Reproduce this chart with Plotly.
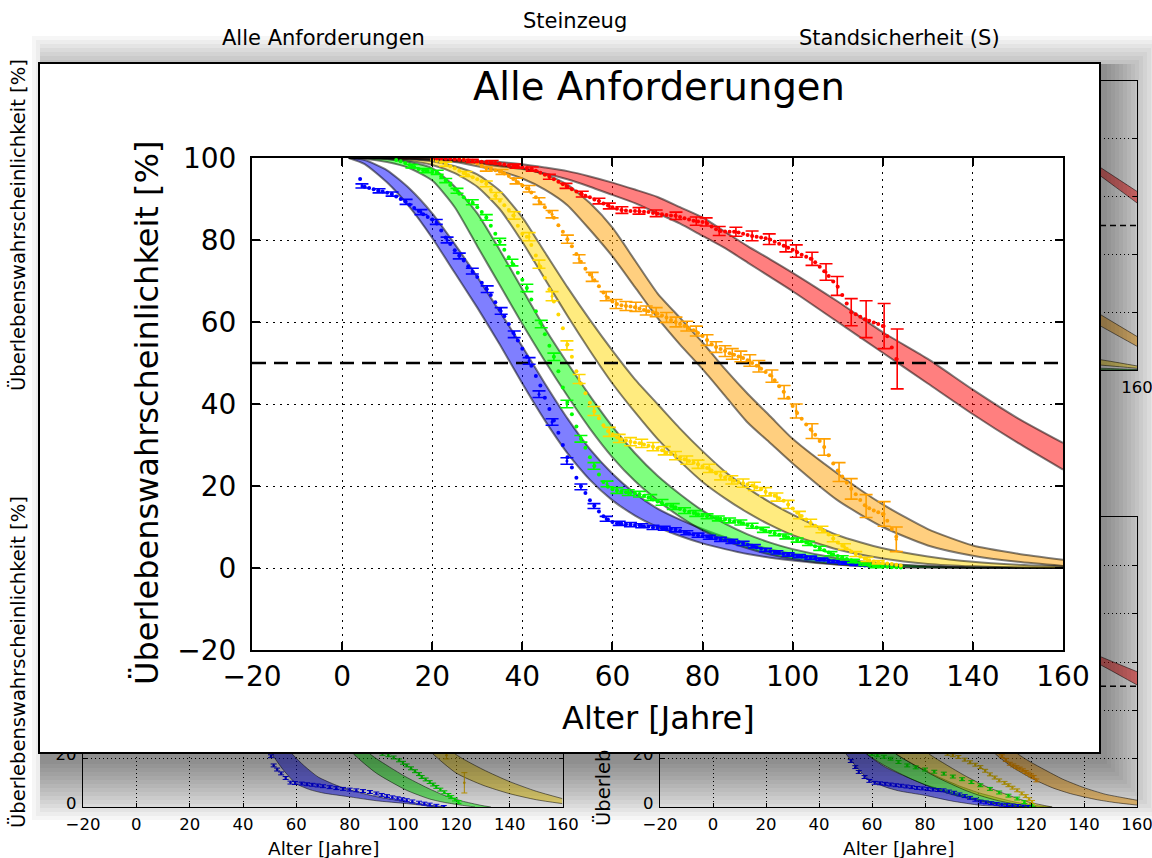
import plotly.graph_objects as go

W, H = 1152, 858
FONT = "DejaVu Sans"

# ======================= DATA =======================
X_TICKS = [-20, 0, 20, 40, 60, 80, 100, 120, 140, 160]
X_TICK_TEXT = ["−20", "0", "20", "40", "60", "80", "100", "120", "140", "160"]
# top-right background plot: only its last x label is not covered by the pop-up panel
TR_X_TICK_TEXT = ["", "", "", "", "", "", "", "", "", "160"]
Y_TICKS_MAIN = [-20, 0, 20, 40, 60, 80, 100]
Y_TICK_TEXT_MAIN = ["−20", "0", "20", "40", "60", "80", "100"]
Y_TICKS_BG = [0, 20, 40, 60, 80, 100, 120]
# bottom background plots: only the two lowest y labels are not covered by the panel
Y_TICK_TEXT_BG = ["0", "20", "", "", "", "", ""]
THRESHOLD_X = [-20, 160]
THRESHOLD = [50, 50]

# ---- foreground: "Alle Anforderungen" bands (lower / upper curve) ----
BAND_X = [1.5, 5, 10, 15, 20, 25, 30, 35, 40, 45, 50, 55, 60, 65, 70, 75, 80, 85, 90, 95, 100, 110, 120, 130, 140, 150, 160]
BLUE_LO = [100, 98.5, 94, 88, 80.5, 72, 63.5, 54.5, 45, 36, 28, 21.5, 16.5, 12.8, 10, 7.8, 6, 4.6, 3.4, 2.5, 1.8, 0.8, 0.3, 0.1, 0, 0, 0]
BLUE_HI = [100, 99.5, 97, 92.5, 86.5, 79, 71, 62.5, 54, 45, 36.5, 29, 23, 18.2, 14.5, 11.8, 9.5, 7.5, 5.9, 4.6, 3.5, 1.9, 0.9, 0.4, 0.15, 0.05, 0]
GREEN_LO = [100, 99.8, 99, 97.5, 94.5, 88, 78.5, 69, 59.5, 50.5, 42, 34, 27, 21.2, 16.5, 12.5, 9.2, 6.7, 4.8, 3.3, 2.2, 0.9, 0.3, 0.1, 0, 0, 0]
GREEN_HI = [100, 100, 99.7, 99, 97.5, 93, 86.5, 77.5, 68, 58.5, 50, 42, 34.5, 28, 22.5, 18, 14, 10.8, 8.2, 6.2, 4.6, 2.4, 1.1, 0.45, 0.15, 0.05, 0]
YELLOW_LO = [100, 100, 99.8, 99.3, 98.3, 96.3, 93, 87.5, 79.5, 70.5, 61.5, 53, 45, 38, 31.5, 26, 21, 17, 13.5, 10.5, 8, 4.5, 2.3, 1, 0.4, 0.1, 0]
YELLOW_HI = [100, 100, 99.9, 99.7, 99.2, 98, 96, 92, 85.5, 77, 68.5, 60.5, 53, 46, 40, 34, 28.5, 23.5, 19.5, 16, 13, 8, 4.8, 2.8, 1.5, 0.8, 0.4]
ORANGE_LO = [100, 100, 100, 99.8, 99.5, 99, 98, 96.8, 95, 92.3, 88.5, 82.5, 76, 68.5, 61, 54.5, 48.5, 42, 35.5, 30.5, 25.5, 16.5, 10, 5.5, 3, 1.5, 0.5]
ORANGE_HI = [100, 100, 100, 100, 99.8, 99.5, 99, 98.3, 97.5, 96, 93.5, 89, 83, 75, 67, 61, 55, 48.5, 42.5, 37, 31.5, 23, 15.5, 9.5, 5.5, 3.5, 2]
RED_LO = [100, 100, 100, 99.8, 99.6, 99.2, 98.7, 98, 97.3, 96.2, 94.8, 93, 91, 89, 86.5, 84, 81, 78, 74.5, 71, 67.5, 60, 52.5, 45, 37.5, 30.5, 24]
RED_HI = [100, 100, 100, 100, 99.8, 99.6, 99.3, 99, 98.5, 97.7, 96.8, 95.5, 94, 92.3, 90.5, 88, 85.5, 82, 78.5, 75.3, 72, 65, 57.5, 51, 43.5, 36.5, 30.5]

# ---- foreground observed survival (one dot per year, first year given) ----
BLUE_DOT_START = 4
BLUE_DOTS = [94.9, 93.0, 92.7, 92.4, 92.0, 91.8, 91.5, 91.2, 90.6, 90.0, 89.4, 88.6, 87.8, 87.1, 86.3, 85.6,
             85.0, 84.0, 82.3, 80.6, 79.0, 77.5, 76.2, 75.0, 73.6, 72.2, 71.0, 69.6, 68.2, 66.6, 64.8, 63.0,
             61.4, 59.5, 57.4, 55.5, 53.5, 51.5, 49.3, 46.8, 44.5, 41.5, 38.8, 36.0, 33.0, 30.0, 27.0, 24.5,
             22.0, 20.0, 18.3, 16.5, 15.2, 13.8, 12.6, 11.8, 11.2, 10.9, 10.8, 10.7, 10.6, 10.5, 10.4, 10.2,
             10.1, 9.9, 9.8, 9.7, 9.6, 9.5, 9.3, 9.0, 8.7, 8.4, 8.2, 8.0, 7.8, 7.6, 7.4, 7.2, 7.0, 6.8, 6.6,
             6.4, 6.3, 6.0, 5.7, 5.4, 5.0, 4.7, 4.4, 4.1, 3.9, 3.7, 3.5, 3.3, 3.1, 2.9, 2.8, 2.7, 2.5, 2.3,
             2.1, 2.0, 1.8, 1.6, 1.5, 1.3, 1.2, 1.0, 0.9, 0.7, 0.6, 0.5]
GREEN_DOT_START = 12
GREEN_DOTS = [99.5, 99.2, 98.8, 98.3, 97.8, 97.3, 97.0, 96.8, 96.6, 96.4, 95.5, 94.5, 93.4, 92.3, 91.3, 90.4,
              89.6, 89.0, 88.0, 86.8, 85.5, 83.5, 81.5, 79.6, 77.6, 75.8, 74.0, 72.0, 70.3, 68.3, 65.5, 62.6,
              59.8, 57.0, 54.2, 51.5, 48.0, 44.0, 40.5, 37.5, 34.5, 31.5, 29.3, 27.0, 24.9, 22.8, 21.0, 19.8,
              19.2, 18.9, 18.7, 18.5, 18.3, 18.2, 18.0, 17.6, 17.2, 16.7, 16.2, 15.8, 15.4, 15.1, 14.8, 14.4,
              14.0, 13.7, 13.4, 13.1, 12.8, 12.6, 12.4, 12.2, 12.0, 11.8, 11.6, 11.4, 11.2, 10.9, 10.5, 10.2,
              9.9, 9.5, 9.1, 8.8, 8.5, 8.1, 7.8, 7.5, 7.2, 6.8, 6.5, 6.2, 5.8, 5.3, 4.8, 4.3, 3.8, 3.3, 2.9,
              2.6, 2.2, 1.9, 1.5, 1.2, 0.9, 0.6, 0.5, 0.4, 0.3, 0.3, 0.2, 0.2, 0.1]
YELLOW_DOT_START = 20
YELLOW_DOTS = [99.6, 99.3, 99.0, 98.5, 98.0, 97.5, 96.9, 96.3, 95.8, 95.3, 94.8, 94.3, 93.7, 92.2, 90.8, 89.6,
               88.5, 87.3, 86.0, 83.5, 81.5, 80.8, 78.8, 76.2, 73.5, 70.8, 68.0, 65.0, 61.8, 58.5, 54.5, 51.5,
               48.0, 45.0, 42.6, 40.3, 38.2, 36.5, 34.8, 33.4, 32.6, 31.8, 31.4, 31.1, 30.8, 30.6, 30.4, 30.1,
               29.8, 29.6, 29.2, 28.7, 28.2, 27.8, 27.4, 27.0, 26.5, 26.1, 25.7, 25.3, 24.8, 24.4, 23.8, 23.1,
               22.5, 22.1, 21.7, 21.3, 21.0, 20.7, 20.4, 20.1, 19.7, 19.2, 18.6, 18.1, 17.6, 17.0, 16.4, 15.5,
               14.5, 13.5, 12.7, 11.8, 11.0, 10.3, 9.6, 9.0, 8.2, 7.2, 6.2, 5.4, 4.7, 4.0, 3.4, 2.8, 2.3, 1.9,
               1.6, 1.4, 1.2, 1.1, 1.0, 0.8, 0.6]
ORANGE_DOT_START = 26
ORANGE_DOTS = [99.8, 99.6, 99.4, 99.1, 98.7, 98.2, 97.6, 97.3, 97.0, 96.7, 96.2, 95.6, 94.9, 94.1, 93.3, 92.6,
               91.6, 90.4, 89.1, 88.0, 86.9, 85.4, 83.6, 82.0, 80.2, 78.5, 76.6, 74.7, 73.0, 71.6, 70.2, 68.7,
               67.2, 65.9, 65.0, 64.4, 64.1, 63.9, 63.8, 63.6, 63.3, 62.9, 62.6, 62.4, 62.0, 61.6, 61.1, 60.5,
               60.0, 59.5, 59.0, 58.5, 58.0, 57.3, 56.6, 55.6, 54.6, 53.9, 53.4, 52.9, 52.4, 52.0, 51.6, 51.2,
               50.7, 50.0, 49.3, 48.6, 47.8, 47.0, 45.8, 44.3, 43.0, 41.5, 39.5, 37.8, 36.4, 35.0, 33.8, 32.5,
               31.0, 29.5, 27.5, 25.5, 23.8, 22.3, 20.8, 19.3, 18.0, 16.6, 15.3, 14.6, 14.0, 13.6, 13.2, 11.5,
               9.5, 7.6]
RED_DOT_START = 20
RED_DOTS = [100.0, 99.9, 99.9, 99.8, 99.8, 99.7, 99.6, 99.5, 99.4, 99.3, 99.2, 99.1, 99.0, 99.0, 98.8, 98.6,
            98.4, 98.2, 98.0, 97.9, 97.7, 97.5, 97.3, 96.9, 96.4, 95.9, 95.4, 94.8, 94.2, 93.6, 93.0, 92.4,
            91.8, 91.3, 90.8, 90.4, 89.9, 89.5, 88.9, 88.4, 88.0, 87.6, 87.3, 87.2, 87.1, 87.1, 87.0, 86.9,
            86.8, 86.6, 86.4, 86.3, 86.1, 86.0, 85.9, 85.6, 85.3, 85.0, 84.7, 84.5, 84.4, 84.0, 83.3, 82.6,
            82.2, 82.1, 82.0, 82.0, 81.8, 81.5, 81.2, 81.0, 80.8, 80.6, 80.4, 80.1, 79.6, 79.1, 78.6, 78.1,
            77.6, 77.0, 76.4, 75.9, 75.4, 74.6, 73.5, 72.4, 71.2, 69.9, 68.6, 66.6, 64.5, 62.4, 61.9, 61.3,
            60.7, 60.3, 59.9, 59.5, 59.0, 56.5, 53.8, 51.0]

# ---- foreground error bars ----
BLUE_BAR_X = [4.4, 8.2, 11.1, 14.2, 17.5, 20.9, 23.3, 26.0, 28.9, 32.2, 35.3, 38.2, 41.5, 43.7, 46.6, 49.9,
              53.0, 55.9, 58.6, 61.5, 64.0, 66.5, 69.0, 71.5, 74.0, 76.5, 79.0, 81.5, 84.0, 86.5, 89.0, 91.5,
              94.0, 96.5, 99.0, 101.5, 104.0, 106.5, 109.0, 111.5, 114.0]
BLUE_BAR_Y = [93.2, 92.0, 91.2, 89.3, 86.8, 84.4, 80.0, 76.1, 72.4, 68.0, 62.7, 57.0, 50.5, 42.4, 35.6, 26.1,
              19.8, 15.1, 12.0, 10.9, 10.6, 10.3, 9.9, 9.7, 9.3, 8.6, 8.0, 7.5, 7.0, 6.5, 6.0, 5.3,
              4.4, 3.8, 3.3, 2.9, 2.5, 2.1, 1.6, 1.2, 0.9]
BLUE_BAR_ERR = [0.5, 0.5, 0.5, 0.6, 0.6, 0.6, 0.7, 0.7, 0.7, 0.8, 0.8, 0.8, 0.8, 0.8, 0.8, 0.8,
                0.7, 0.6, 0.6, 0.5, 0.5, 0.5, 0.5, 0.5, 0.5, 0.5, 0.5, 0.5, 0.5, 0.5, 0.5, 0.4,
                0.4, 0.4, 0.4, 0.4, 0.4, 0.3, 0.3, 0.3, 0.3]
GREEN_BAR_X = [15.5, 18.6, 21.1, 23.0, 25.5, 28.9, 32.0, 35.0, 37.7, 41.0, 44.2, 47.0, 49.9, 53.0, 55.9, 58.8,
               61.0, 63.5, 66.0, 68.5, 71.0, 73.5, 76.0, 78.5, 81.0, 83.5, 86.0, 88.5, 91.0, 93.5, 96.0, 98.5,
               101.0, 103.5, 106.0, 108.5, 111.0, 113.5, 116.0, 118.5]
GREEN_BAR_Y = [98.0, 96.9, 96.5, 94.5, 92.0, 89.2, 85.5, 79.6, 74.5, 68.3, 59.5, 51.5, 40.0, 31.5, 24.9, 20.5,
               18.9, 18.4, 18.0, 17.2, 16.0, 15.0, 14.0, 13.3, 12.6, 12.1, 11.6, 11.1, 10.3, 9.3, 8.5, 7.7,
               6.8, 6.0, 4.8, 3.5, 2.6, 1.7, 0.9, 0.4]
GREEN_BAR_ERR = [0.4, 0.5, 0.5, 0.5, 0.6, 0.6, 0.7, 0.8, 0.8, 0.9, 0.9, 0.9, 0.9, 0.8, 0.8, 0.7,
                 0.7, 0.7, 0.7, 0.7, 0.7, 0.7, 0.7, 0.7, 0.6, 0.6, 0.6, 0.6, 0.6, 0.6, 0.6, 0.6,
                 0.5, 0.5, 0.5, 0.5, 0.4, 0.4, 0.3, 0.3]
YELLOW_BAR_X = [23.0, 27.5, 32.0, 34.2, 38.2, 41.5, 43.7, 46.6, 49.9, 52.6, 55.9, 59.3, 61.5, 64.0, 66.5, 69.0,
                71.5, 74.0, 76.5, 79.0, 81.5, 84.0, 86.5, 89.0, 91.5, 94.0, 96.5, 99.0, 101.5, 104.0, 106.5,
                109.0, 111.5, 114.0, 116.5, 119.0]
YELLOW_BAR_Y = [98.5, 96.1, 93.7, 90.8, 86.0, 80.8, 74.1, 66.3, 54.3, 46.1, 38.3, 33.2, 31.6, 30.8, 30.4, 29.6,
                28.6, 27.4, 26.3, 25.3, 24.3, 22.5, 21.5, 20.7, 19.9, 18.6, 17.3, 15.5, 12.9, 11.0, 9.4,
                7.2, 5.2, 3.4, 2.1, 1.4]
YELLOW_BAR_ERR = [0.5, 0.6, 0.7, 0.8, 0.9, 1.0, 1.0, 1.1, 1.1, 1.1, 1.1, 1.1, 1.0, 1.0, 1.0, 1.0,
                  1.0, 1.0, 1.0, 1.0, 1.0, 1.0, 1.0, 1.0, 1.0, 1.0, 1.0, 1.0, 0.9, 0.9, 0.8,
                  0.8, 0.7, 0.6, 0.5, 0.4]
ORANGE_BAR_X = [32.0, 35.5, 38.6, 41.5, 43.7, 46.6, 50.0, 52.6, 55.5, 58.6, 60.8, 63.0, 65.2, 67.5, 69.7, 72.0,
                74.1, 76.5, 78.6, 81.0, 83.0, 85.0, 86.6, 88.5, 90.5, 92.5, 95.4, 98.1, 100.8, 104.3, 107.0,
                110.3, 113.0, 116.3, 120.3, 123.0]
ORANGE_BAR_Y = [97.3, 96.6, 94.4, 92.5, 89.5, 86.3, 80.2, 75.4, 71.0, 66.3, 64.4, 63.9, 63.7, 62.8, 62.4, 61.1,
                60.0, 59.0, 57.8, 55.6, 53.9, 52.9, 52.2, 51.6, 50.6, 49.2, 46.8, 42.9, 38.3, 33.4, 29.5,
                23.4, 19.3, 15.1, 13.2, 7.0]
ORANGE_BAR_ERR = [0.5, 0.6, 0.7, 0.8, 0.8, 0.9, 1.0, 1.0, 1.1, 1.1, 1.1, 1.1, 1.1, 1.1, 1.1, 1.2,
                  1.2, 1.2, 1.2, 1.3, 1.3, 1.3, 1.3, 1.3, 1.4, 1.4, 1.5, 1.6, 1.7, 1.8, 2.0,
                  2.3, 2.5, 2.8, 3.0, 3.0]
RED_BAR_X = [28.9, 33.3, 38.6, 42.2, 46.0, 49.7, 53.3, 57.0, 59.3, 62.1, 65.9, 69.7, 74.1, 78.6, 80.8, 83.7,
             87.4, 91.0, 94.8, 98.5, 100.8, 104.3, 107.4, 109.9, 113.0, 116.3, 120.3, 123.2]
RED_BAR_Y = [99.3, 99.0, 98.0, 97.3, 95.4, 93.2, 91.2, 89.5, 88.3, 87.3, 87.1, 86.5, 85.9, 84.6, 84.4, 82.2,
             82.0, 81.0, 80.2, 78.5, 77.3, 75.4, 72.2, 68.8, 62.4, 60.7, 59.0, 51.0]
RED_BAR_ERR = [0.4, 0.4, 0.5, 0.5, 0.6, 0.6, 0.7, 0.7, 0.7, 0.8, 0.8, 0.8, 0.9, 1.0, 1.0, 1.1,
               1.1, 1.2, 1.3, 1.4, 1.5, 1.6, 2.0, 2.3, 3.3, 4.5, 5.5, 7.3]

# ---- background: top-right subplot "Standsicherheit (S)" (visible tail only) ----
TR_X = [140, 150, 160]
TR_RED_LO = [71.4, 64.6, 57.8]
TR_RED_HI = [73.8, 67.8, 61.8]
TR_ORANGE_LO = [18.4, 13.3, 8.2]
TR_ORANGE_HI = [22.6, 17.1, 11.6]
TR_YELLOW_LO = [2.2, 1.4, 0.6]
TR_YELLOW_HI = [4.5, 3.0, 1.4]
TR_GREEN_LO = [0.2, 0.1, 0.0]
TR_GREEN_HI = [0.8, 0.5, 0.2]

# ---- background: bottom-left subplot (visible lower strip) ----
BL_BLUE_LO_X = [47, 50.8, 55, 59.9, 65, 70, 80.6, 90, 101.4, 112.5]
BL_BLUE_LO = [30, 22, 15.5, 9.7, 7.2, 5.8, 4.1, 2.6, 1.4, 0]
BL_BLUE_HI_X = [53, 58.4, 63, 68.2, 75, 80.6, 90, 101.4, 110, 116]
BL_BLUE_HI = [30, 22, 17, 12.4, 9, 6.9, 4.3, 2.1, 0.8, 0]
BL_GREEN_LO_X = [76, 81.4, 90, 101.4, 110, 116, 122.3, 127]
BL_GREEN_LO = [30, 22, 14, 6.9, 3.3, 1.8, 0.7, 0]
BL_GREEN_HI_X = [82, 87.6, 95, 101, 108.4, 115, 122, 129.2, 133]
BL_GREEN_HI = [30, 22, 16.5, 12.5, 8.3, 5, 2.5, 0.7, 0]
BL_YELLOW_LO_X = [105, 111.2, 120, 130, 140, 150, 159.7]
BL_YELLOW_LO = [30, 22, 14, 9, 5.5, 3, 1.4]
BL_YELLOW_HI_X = [113, 119.5, 130, 140, 150, 159.7]
BL_YELLOW_HI = [30, 22, 15.5, 10.5, 6.5, 3.5]
BL_BLUE_DOT_X = [50.5, 51.5, 52.8, 54.3, 56.0, 57.8, 59.5, 62, 64, 66, 68, 70, 72.5, 75, 77.5, 80, 82.5, 85, 87.6,
                 90, 92, 94, 96, 98, 99.7, 101.4, 103.5, 106, 108, 110, 112.5, 115.3]
BL_BLUE_DOT_Y = [21.0, 17.2, 15.5, 13.9, 12.0, 10.1, 9.9, 9.7, 9.4, 9.2, 8.9, 8.6, 8.2, 7.8, 7.5, 7.2, 6.9, 6.6, 6.2,
                 5.6, 5.0, 4.5, 4.0, 3.6, 3.2, 2.8, 2.3, 1.8, 1.4, 1.0, 0.5, 0.0]
BL_GREEN_DOT_X = [90, 92.3, 94.5, 96.5, 98.5, 100, 101.4, 103, 104.5, 106, 107, 108.5, 110, 111.3, 112.5, 114,
                  115.5, 117, 118.1, 119.5, 120.8]
BL_GREEN_DOT_Y = [22.8, 22.0, 21.4, 20.5, 19.3, 18.3, 17.2, 16.0, 14.8, 13.6, 12.4, 11.4, 10.3, 9.3, 8.3, 7.2,
                  6.1, 5.0, 4.1, 3.1, 2.1]
BL_YELLOW_BAR_X = [116.3, 123.0]
BL_YELLOW_BAR_Y = [21.4, 10.0]
BL_YELLOW_BAR_ERR = [1.5, 4.2]

# ---- background: bottom-right subplot (visible lower strip + right strip) ----
BR_RED_X = [140, 150, 160]
BR_RED_LO = [62.5, 56.6, 50.5]
BR_RED_HI = [65.1, 60.5, 56.0]
BR_BLUE_LO_X = [46, 50.2, 55, 59.3, 65, 70, 80.1, 90, 101, 110, 120]
BR_BLUE_LO = [30, 22, 15.5, 11, 8.3, 6.7, 4.8, 2.5, 0.7, 0.2, 0]
BR_BLUE_HI_X = [52, 57.9, 65, 73.2, 80, 87.1, 95, 107.9, 117.7, 125]
BR_BLUE_HI = [30, 22, 16.5, 12.4, 9.3, 6.9, 4.5, 1.4, 0.2, 0]
BR_GREEN_LO_X = [50, 57.9, 65, 75, 85, 90, 100, 105, 112, 118]
BR_GREEN_LO = [30, 22, 17, 11.5, 7, 5.2, 2.7, 1.6, 0.6, 0]
BR_GREEN_HI_X = [60, 69, 75, 85, 93, 100, 108, 115, 122, 128]
BR_GREEN_HI = [30, 22, 18, 12.5, 8.7, 6, 3.6, 1.8, 0.6, 0]
BR_YELLOW_LO_X = [62, 69, 75, 85, 95, 100, 107, 115, 122]
BR_YELLOW_LO = [30, 22, 18, 12, 7, 5, 2.8, 1, 0]
BR_YELLOW_HI_X = [74, 81.5, 88, 95, 103, 110, 115, 120, 128]
BR_YELLOW_HI = [30, 22, 17.5, 13, 8.5, 5.5, 3.5, 1.8, 0]
BR_ORANGE_LO_X = [100, 106.5, 113, 120, 128, 135, 145, 152, 160]
BR_ORANGE_LO = [30, 22, 16.5, 12, 8, 5.5, 3, 1.8, 0.8]
BR_ORANGE_HI_X = [108, 115, 120, 125, 132, 140, 148, 155, 160]
BR_ORANGE_HI = [30, 22, 18.5, 15.5, 11.5, 8, 5.3, 3.8, 2.8]
BR_BLUE_DOT_X = [52, 53.7, 55, 57.2, 59, 61, 63, 65, 67, 69, 71, 73, 75, 77, 79, 81, 83, 85, 87, 89, 91, 93, 95,
                 97, 99, 101, 103, 105, 107, 109, 111, 113, 115, 117, 119]
BR_BLUE_DOT_Y = [19, 16.5, 14.5, 12.4, 10.8, 10.0, 9.8, 9.6, 9.3, 9.0, 8.8, 8.5, 8.2, 7.9, 7.7, 7.4, 7.2, 7.0,
                 6.9, 6.4, 5.9, 5.2, 4.5, 3.8, 3.0, 2.2, 1.9, 1.6, 1.3, 1.0, 0.8, 0.6, 0.4, 0.2, 0.0]
BR_GREEN_DOT_X = [60, 62, 64.5, 67, 70, 73.3, 76.5, 80, 83.5, 87.1, 90.5, 94, 97.5, 100.9, 104.5, 108, 111.5,
                  114.8, 117.5, 120.4]
BR_GREEN_DOT_Y = [22.0, 21.4, 20.8, 20.0, 18.6, 17.2, 16.4, 15.5, 14.6, 13.8, 12.6, 11.5, 10.3, 9.0, 7.5, 6.0,
                  4.7, 3.5, 2.0, 0.7]
BR_YELLOW_DOT_X = [88.5, 90.5, 92.6, 95, 97, 99, 100.9, 102.7, 104.5, 106.3, 108, 110, 111.5, 113, 114.8, 116.5,
                   118, 119.3, 120.4]
BR_YELLOW_DOT_Y = [22.0, 21.4, 20.7, 19.6, 18.5, 17.5, 16.5, 15.0, 13.5, 12.2, 11.0, 10.0, 9.0, 8.0, 6.9, 5.6,
                   4.5, 3.2, 2.1]
BR_ORANGE_DOT_X = [109, 110.5, 112, 113.3, 114.5, 115.7, 116.9, 118, 119, 120, 121, 122]
BR_ORANGE_DOT_Y = [21.0, 19.5, 17.9, 17.2, 16.5, 15.9, 15.2, 14.5, 13.8, 13.1, 12.4, 11.0]
BG_ERR = 0.6

# ======================= STYLE =======================
C_BLUE, C_GREEN, C_YELLOW, C_ORANGE, C_RED = "#0000ff", "#00ff00", "#ffd700", "#ffa000", "#ff0000"
F_BLUE, F_GREEN, F_YELLOW, F_ORANGE, F_RED = ("rgba(0,0,255,0.5)", "rgba(0,255,0,0.5)", "rgba(255,215,0,0.5)",
                                             "rgba(255,160,0,0.5)", "rgba(255,0,0,0.5)")
EDGE = "rgba(0,0,0,0.5)"


def fx(p):
    return p / W


def fy(p):
    return 1 - p / H


fig = go.Figure()


def band(xl, yl, xh, yh, fill, xa, ya, lw):
    common = dict(mode="lines", xaxis=xa, yaxis=ya, hoverinfo="skip", showlegend=False)
    fig.add_trace(go.Scatter(x=xl, y=yl, line=dict(color=EDGE, width=lw, shape="spline", smoothing=0.6), **common))
    fig.add_trace(go.Scatter(x=xh, y=yh, fill="tonexty", fillcolor=fill,
                             line=dict(color=EDGE, width=lw, shape="spline", smoothing=0.6), **common))


def dots(xs, ys, color, xa, ya, size):
    fig.add_trace(go.Scatter(x=xs, y=ys, mode="markers", xaxis=xa, yaxis=ya, hoverinfo="skip", showlegend=False,
                             marker=dict(color=color, size=size, line=dict(width=0))))


def bars(xs, ys, err, color, xa, ya, size, cap, thick):
    ey = dict(type="data", array=err, visible=True, color=color, width=cap, thickness=thick) if isinstance(err, list) \
        else dict(type="constant", value=err, visible=True, color=color, width=cap, thickness=thick)
    fig.add_trace(go.Scatter(x=xs, y=ys, mode="markers", xaxis=xa, yaxis=ya, hoverinfo="skip", showlegend=False,
                             marker=dict(color=color, size=size, line=dict(width=0)), error_y=ey))


def dashed(xa, ya, width, dash):
    fig.add_trace(go.Scatter(x=THRESHOLD_X, y=THRESHOLD, mode="lines", xaxis=xa, yaxis=ya, hoverinfo="skip",
                             showlegend=False, line=dict(color="black", width=width, dash=dash)))


# ---- subplot 1 (x/y): top-right background ----
band(TR_X, TR_GREEN_LO, TR_X, TR_GREEN_HI, F_GREEN, "x", "y", 1)
band(TR_X, TR_YELLOW_LO, TR_X, TR_YELLOW_HI, F_YELLOW, "x", "y", 1)
band(TR_X, TR_ORANGE_LO, TR_X, TR_ORANGE_HI, F_ORANGE, "x", "y", 1)
band(TR_X, TR_RED_LO, TR_X, TR_RED_HI, F_RED, "x", "y", 1)
dashed("x", "y", 1.5, "6px,4px")

# ---- subplot 2 (x2/y2): bottom-left background ----
band(BL_BLUE_LO_X, BL_BLUE_LO, BL_BLUE_HI_X, BL_BLUE_HI, F_BLUE, "x2", "y2", 1)
band(BL_GREEN_LO_X, BL_GREEN_LO, BL_GREEN_HI_X, BL_GREEN_HI, F_GREEN, "x2", "y2", 1)
band(BL_YELLOW_LO_X, BL_YELLOW_LO, BL_YELLOW_HI_X, BL_YELLOW_HI, F_YELLOW, "x2", "y2", 1)
dashed("x2", "y2", 1.5, "6px,4px")
bars(BL_BLUE_DOT_X, BL_BLUE_DOT_Y, BG_ERR, C_BLUE, "x2", "y2", 2.5, 3, 1)
bars(BL_GREEN_DOT_X, BL_GREEN_DOT_Y, BG_ERR, C_GREEN, "x2", "y2", 2.5, 3, 1)
bars(BL_YELLOW_BAR_X, BL_YELLOW_BAR_Y, BL_YELLOW_BAR_ERR, "#e8b800", "x2", "y2", 2.5, 3, 1)

# ---- subplot 3 (x3/y3): bottom-right background ----
band(BR_BLUE_LO_X, BR_BLUE_LO, BR_BLUE_HI_X, BR_BLUE_HI, F_BLUE, "x3", "y3", 1)
band(BR_GREEN_LO_X, BR_GREEN_LO, BR_GREEN_HI_X, BR_GREEN_HI, F_GREEN, "x3", "y3", 1)
band(BR_YELLOW_LO_X, BR_YELLOW_LO, BR_YELLOW_HI_X, BR_YELLOW_HI, F_YELLOW, "x3", "y3", 1)
band(BR_ORANGE_LO_X, BR_ORANGE_LO, BR_ORANGE_HI_X, BR_ORANGE_HI, F_ORANGE, "x3", "y3", 1)
band(BR_RED_X, BR_RED_LO, BR_RED_X, BR_RED_HI, F_RED, "x3", "y3", 1)
dashed("x3", "y3", 1.5, "6px,4px")
bars(BR_BLUE_DOT_X, BR_BLUE_DOT_Y, BG_ERR, C_BLUE, "x3", "y3", 2.5, 3, 1)
bars(BR_GREEN_DOT_X, BR_GREEN_DOT_Y, BG_ERR, C_GREEN, "x3", "y3", 2.5, 3, 1)
bars(BR_YELLOW_DOT_X, BR_YELLOW_DOT_Y, BG_ERR, "#e8c000", "x3", "y3", 2.5, 3, 1)
bars(BR_ORANGE_DOT_X, BR_ORANGE_DOT_Y, BG_ERR, C_ORANGE, "x3", "y3", 2.5, 3, 1)

# ---- subplot 4 (x4/y4): the white pop-up panel that covers the page ----
fig.add_trace(go.Scatter(x=[], y=[], mode="markers", xaxis="x4", yaxis="y4", hoverinfo="skip", showlegend=False))

# ---- subplot 5 (x5/y5): foreground chart ----
band(BAND_X, BLUE_LO, BAND_X, BLUE_HI, F_BLUE, "x5", "y5", 2)
band(BAND_X, GREEN_LO, BAND_X, GREEN_HI, F_GREEN, "x5", "y5", 2)
band(BAND_X, YELLOW_LO, BAND_X, YELLOW_HI, F_YELLOW, "x5", "y5", 2)
band(BAND_X, ORANGE_LO, BAND_X, ORANGE_HI, F_ORANGE, "x5", "y5", 2)
band(BAND_X, RED_LO, BAND_X, RED_HI, F_RED, "x5", "y5", 2)
dashed("x5", "y5", 2.5, "14px,8px")

for start, vals, bx, by, be, col in [
    (BLUE_DOT_START, BLUE_DOTS, BLUE_BAR_X, BLUE_BAR_Y, BLUE_BAR_ERR, C_BLUE),
    (GREEN_DOT_START, GREEN_DOTS, GREEN_BAR_X, GREEN_BAR_Y, GREEN_BAR_ERR, C_GREEN),
    (YELLOW_DOT_START, YELLOW_DOTS, YELLOW_BAR_X, YELLOW_BAR_Y, YELLOW_BAR_ERR, C_YELLOW),
    (ORANGE_DOT_START, ORANGE_DOTS, ORANGE_BAR_X, ORANGE_BAR_Y, ORANGE_BAR_ERR, C_ORANGE),
    (RED_DOT_START, RED_DOTS, RED_BAR_X, RED_BAR_Y, RED_BAR_ERR, C_RED),
]:
    dots(list(range(start, start + len(vals))), vals, col, "x5", "y5", 4)
    bars(bx, by, be, col, "x5", "y5", 3, 6.5, 1.6)


# ======================= AXES =======================
def bg_x(dom, anchor, ticktext):
    return dict(domain=dom, anchor=anchor, range=[-20, 160], tickvals=X_TICKS, ticktext=ticktext,
                ticks="inside", ticklen=4, tickwidth=1, tickcolor="black", showline=True, linecolor="black",
                linewidth=1.2, mirror="allticks", showgrid=True, gridcolor="black", gridwidth=1,
                griddash="1px,3px", zeroline=False, tickfont=dict(family=FONT, size=16.5, color="black"),
                ticklabelstandoff=2, ticklabeloverflow="allow", fixedrange=True, automargin=False)


def bg_y(dom, anchor, top, show_labels):
    return dict(domain=dom, anchor=anchor, range=[0, top], tickvals=Y_TICKS_BG, ticktext=Y_TICK_TEXT_BG,
                ticks="inside", ticklen=4, tickwidth=1, tickcolor="black", showline=True, linecolor="black",
                linewidth=1.2, mirror="allticks", showgrid=True, gridcolor="black", gridwidth=1,
                griddash="1px,3px", zeroline=False, showticklabels=show_labels,
                tickfont=dict(family=FONT, size=16.5, color="black"), ticklabelstandoff=2, ticklabelshift=-4,
                ticklabeloverflow="allow", fixedrange=True, automargin=False)


layout = dict(
    template="none",
    width=W, height=H, autosize=False, margin=dict(l=0, r=0, t=0, b=0, pad=0),
    paper_bgcolor="white", plot_bgcolor="white", showlegend=False, hovermode=False,
    font=dict(family=FONT, color="black"),
    xaxis=bg_x([fx(660), fx(1137)], "y", TR_X_TICK_TEXT),
    yaxis=bg_y([fy(370), fy(81)], "x", 100, False),
    xaxis2=bg_x([fx(83), fx(563)], "y2", X_TICK_TEXT),
    yaxis2=bg_y([fy(807), fy(517)], "x2", 120, True),
    xaxis3=bg_x([fx(660), fx(1137)], "y3", X_TICK_TEXT),
    yaxis3=bg_y([fy(807), fy(517)], "x3", 120, True),
    xaxis4=dict(domain=[fx(40), fx(1099)], anchor="y4", range=[0, 1], showline=True, linecolor="black",
                linewidth=2, mirror=True, showgrid=False, zeroline=False, showticklabels=False, ticks="",
                fixedrange=True, automargin=False),
    yaxis4=dict(domain=[fy(752), fy(64)], anchor="x4", range=[0, 1], showline=True, linecolor="black",
                linewidth=2, mirror=True, showgrid=False, zeroline=False, showticklabels=False, ticks="",
                fixedrange=True, automargin=False),
    xaxis5=dict(domain=[fx(252), fx(1063)], anchor="y5", range=[-20, 160], tickvals=X_TICKS,
                ticktext=X_TICK_TEXT, ticks="inside", ticklen=8, tickwidth=1.5, tickcolor="black",
                showline=True, linecolor="black", linewidth=2, mirror="allticks", showgrid=True,
                gridcolor="black", gridwidth=1.2, griddash="2px,5px", zeroline=False,
                tickfont=dict(family=FONT, size=28, color="black"), ticklabelstandoff=0, fixedrange=True,
                automargin=False),
    yaxis5=dict(domain=[fy(650), fy(158)], anchor="x5", range=[-20, 100], tickvals=Y_TICKS_MAIN,
                ticktext=Y_TICK_TEXT_MAIN, ticks="inside", ticklen=8, tickwidth=1.5, tickcolor="black",
                showline=True, linecolor="black", linewidth=2, mirror="allticks", showgrid=True,
                gridcolor="black", gridwidth=1.2, griddash="2px,5px", zeroline=False,
                tickfont=dict(family=FONT, size=28, color="black"), ticklabelstandoff=8, fixedrange=True,
                automargin=False),
)


# ======================= TEXT =======================
def ann(text, x, y, size, angle=0):
    return dict(text=text, x=fx(x), y=fy(y), xref="paper", yref="paper", showarrow=False, textangle=angle,
                xanchor="center", yanchor="middle", font=dict(family=FONT, size=size, color="black"))


annotations = [
    ann("Steinzeug", 575, 21, 21),
    ann("Alle Anforderungen", 323, 38, 21),
    ann("Standsicherheit (S)", 899, 38, 21),
    ann("Überlebenswahrscheinlichkeit [%]", 18, 225, 19.5, -90),
    ann("Überlebenswahrscheinlichkeit [%]", 18, 662, 19.5, -90),
    ann("Überleb", 603, 788, 19.5, -90),
    ann("Alter [Jahre]", 323, 848, 18.5),
    ann("Alter [Jahre]", 898, 848, 18.5),
    ann("Alle Anforderungen", 659, 87, 38.5),
    ann("Alter [Jahre]", 658, 718, 32),
    ann("Überlebenswahrscheinlichkeit [%]", 147, 413, 32, -90),
]

# ======================= PANEL SHADOW (offset down-right) =======================
P0X, P0Y, P1X, P1Y = 40, 64, 1099, 752
shapes = []
for r in range(2, 62, 4):
    L = P0X - max(0, r - 50)
    T = P0Y - max(0, r - 30)
    R = P1X + r + 6
    B = P1Y + r + 10
    path = (f"M{fx(L)},{fy(T)} L{fx(R)},{fy(T)} L{fx(R)},{fy(B)} L{fx(L)},{fy(B)} Z "
            f"M{fx(P0X)},{fy(P0Y)} L{fx(P0X)},{fy(P1Y)} L{fx(P1X)},{fy(P1Y)} L{fx(P1X)},{fy(P0Y)} Z")
    shapes.append(dict(type="path", path=path, xref="paper", yref="paper", fillcolor="rgba(0,0,0,0.034)",
                       line=dict(width=0), layer="above", fillrule="evenodd"))

layout["annotations"] = annotations
layout["shapes"] = shapes
fig.update_layout(**layout)
fig.write_html("out.html")
